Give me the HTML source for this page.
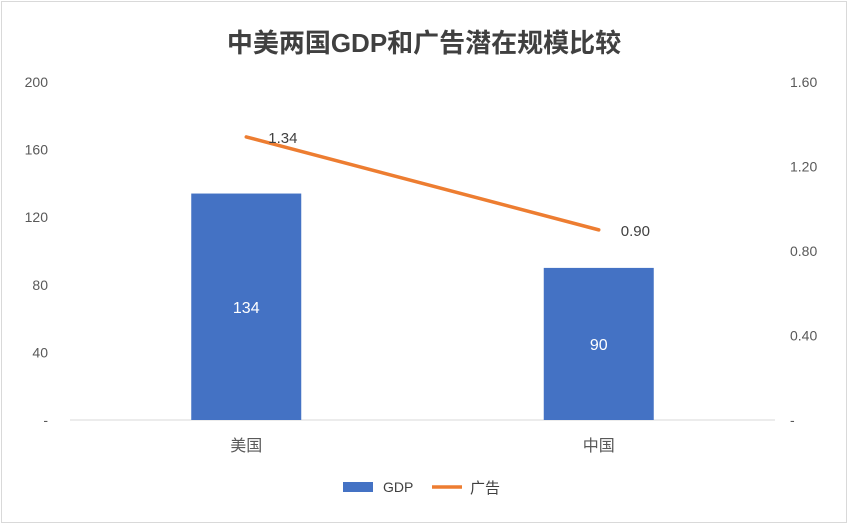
<!DOCTYPE html>
<html><head><meta charset="utf-8"><style>
body{margin:0;background:#fff}
svg{display:block;font-family:"Liberation Sans","Noto Sans CJK SC",sans-serif}
</style></head><body>
<svg width="848" height="524" viewBox="0 0 848 524">
<rect x="1.5" y="1.5" width="845" height="521" fill="#fff" stroke="#d9d9d9"/>
<text x="424" y="52" text-anchor="middle" font-size="26" font-weight="bold" fill="#404040">中美两国GDP和广告潜在规模比较</text>
<g id="axes"></g>
<g id="marks"></g>
<g>
<rect x="343" y="482" width="30" height="10" fill="#4472c4"/>
<text x="383" y="492" font-size="14" fill="#404040">GDP</text>
<line x1="432" y1="487" x2="462" y2="487" stroke="#ed7d31" stroke-width="3.5"/>
<text x="470" y="493" font-size="15" fill="#404040">广告</text>
</g>
</svg>
<script>
const categories=["美国","中国"];
const gdp=[134,90];
const ads=[1.34,0.90];
const leftTicks=[0,40,80,120,160,200];
const rightTicks=[0,0.4,0.8,1.2,1.6];
const NS="http://www.w3.org/2000/svg";
const x0=70,x1=775,yb=420,yt=82;
const yL=v=>yb-(v/200)*(yb-yt);
const yR=v=>yb-(v/1.6)*(yb-yt);
const xC=i=>x0+(i+0.5)*(x1-x0)/categories.length;
function mk(tag,attrs,parent,text){const e=document.createElementNS(NS,tag);for(const k in attrs)e.setAttribute(k,attrs[k]);if(text!==undefined)e.textContent=text;parent.appendChild(e);return e;}
const axes=document.getElementById('axes'),marks=document.getElementById('marks');
leftTicks.forEach(t=>{const e=mk('text',{x:48,y:yL(t)+5,'text-anchor':'end','font-size':14,fill:'#595959'},axes,t===0?'-':String(t));

});
rightTicks.forEach(t=>{const e=mk('text',{x:t===0?790:790,y:yR(t)+5,'font-size':14,fill:'#595959'},axes,t===0?'-':t.toFixed(2));

});
const base=mk('line',{x1:x0,y1:yb,x2:x1,y2:yb,stroke:'#d9d9d9','stroke-width':1},axes);


categories.forEach((c,i)=>{const e=mk('text',{x:xC(i),y:yb+31,'text-anchor':'middle','font-size':16,fill:'#595959'},axes,c);

});
const bw=110;
gdp.forEach((v,i)=>{const r=mk('rect',{x:xC(i)-bw/2,y:yL(v),width:bw,height:yb-yL(v),fill:'#4472c4'},marks);


const t=mk('text',{x:xC(i),y:(yL(v)+yb)/2+6,'text-anchor':'middle','font-size':16,fill:'#fff'},marks,String(v));

});
const pl=mk('polyline',{points:ads.map((v,i)=>xC(i)+','+yR(v)).join(' '),fill:'none',stroke:'#ed7d31','stroke-width':3.5,'stroke-linecap':'round'},marks);


ads.forEach((v,i)=>{const t=mk('text',{x:xC(i)+22,y:yR(v)+6,'font-size':15,fill:'#404040'},marks,v.toFixed(2));

});
</script>
</body></html>
